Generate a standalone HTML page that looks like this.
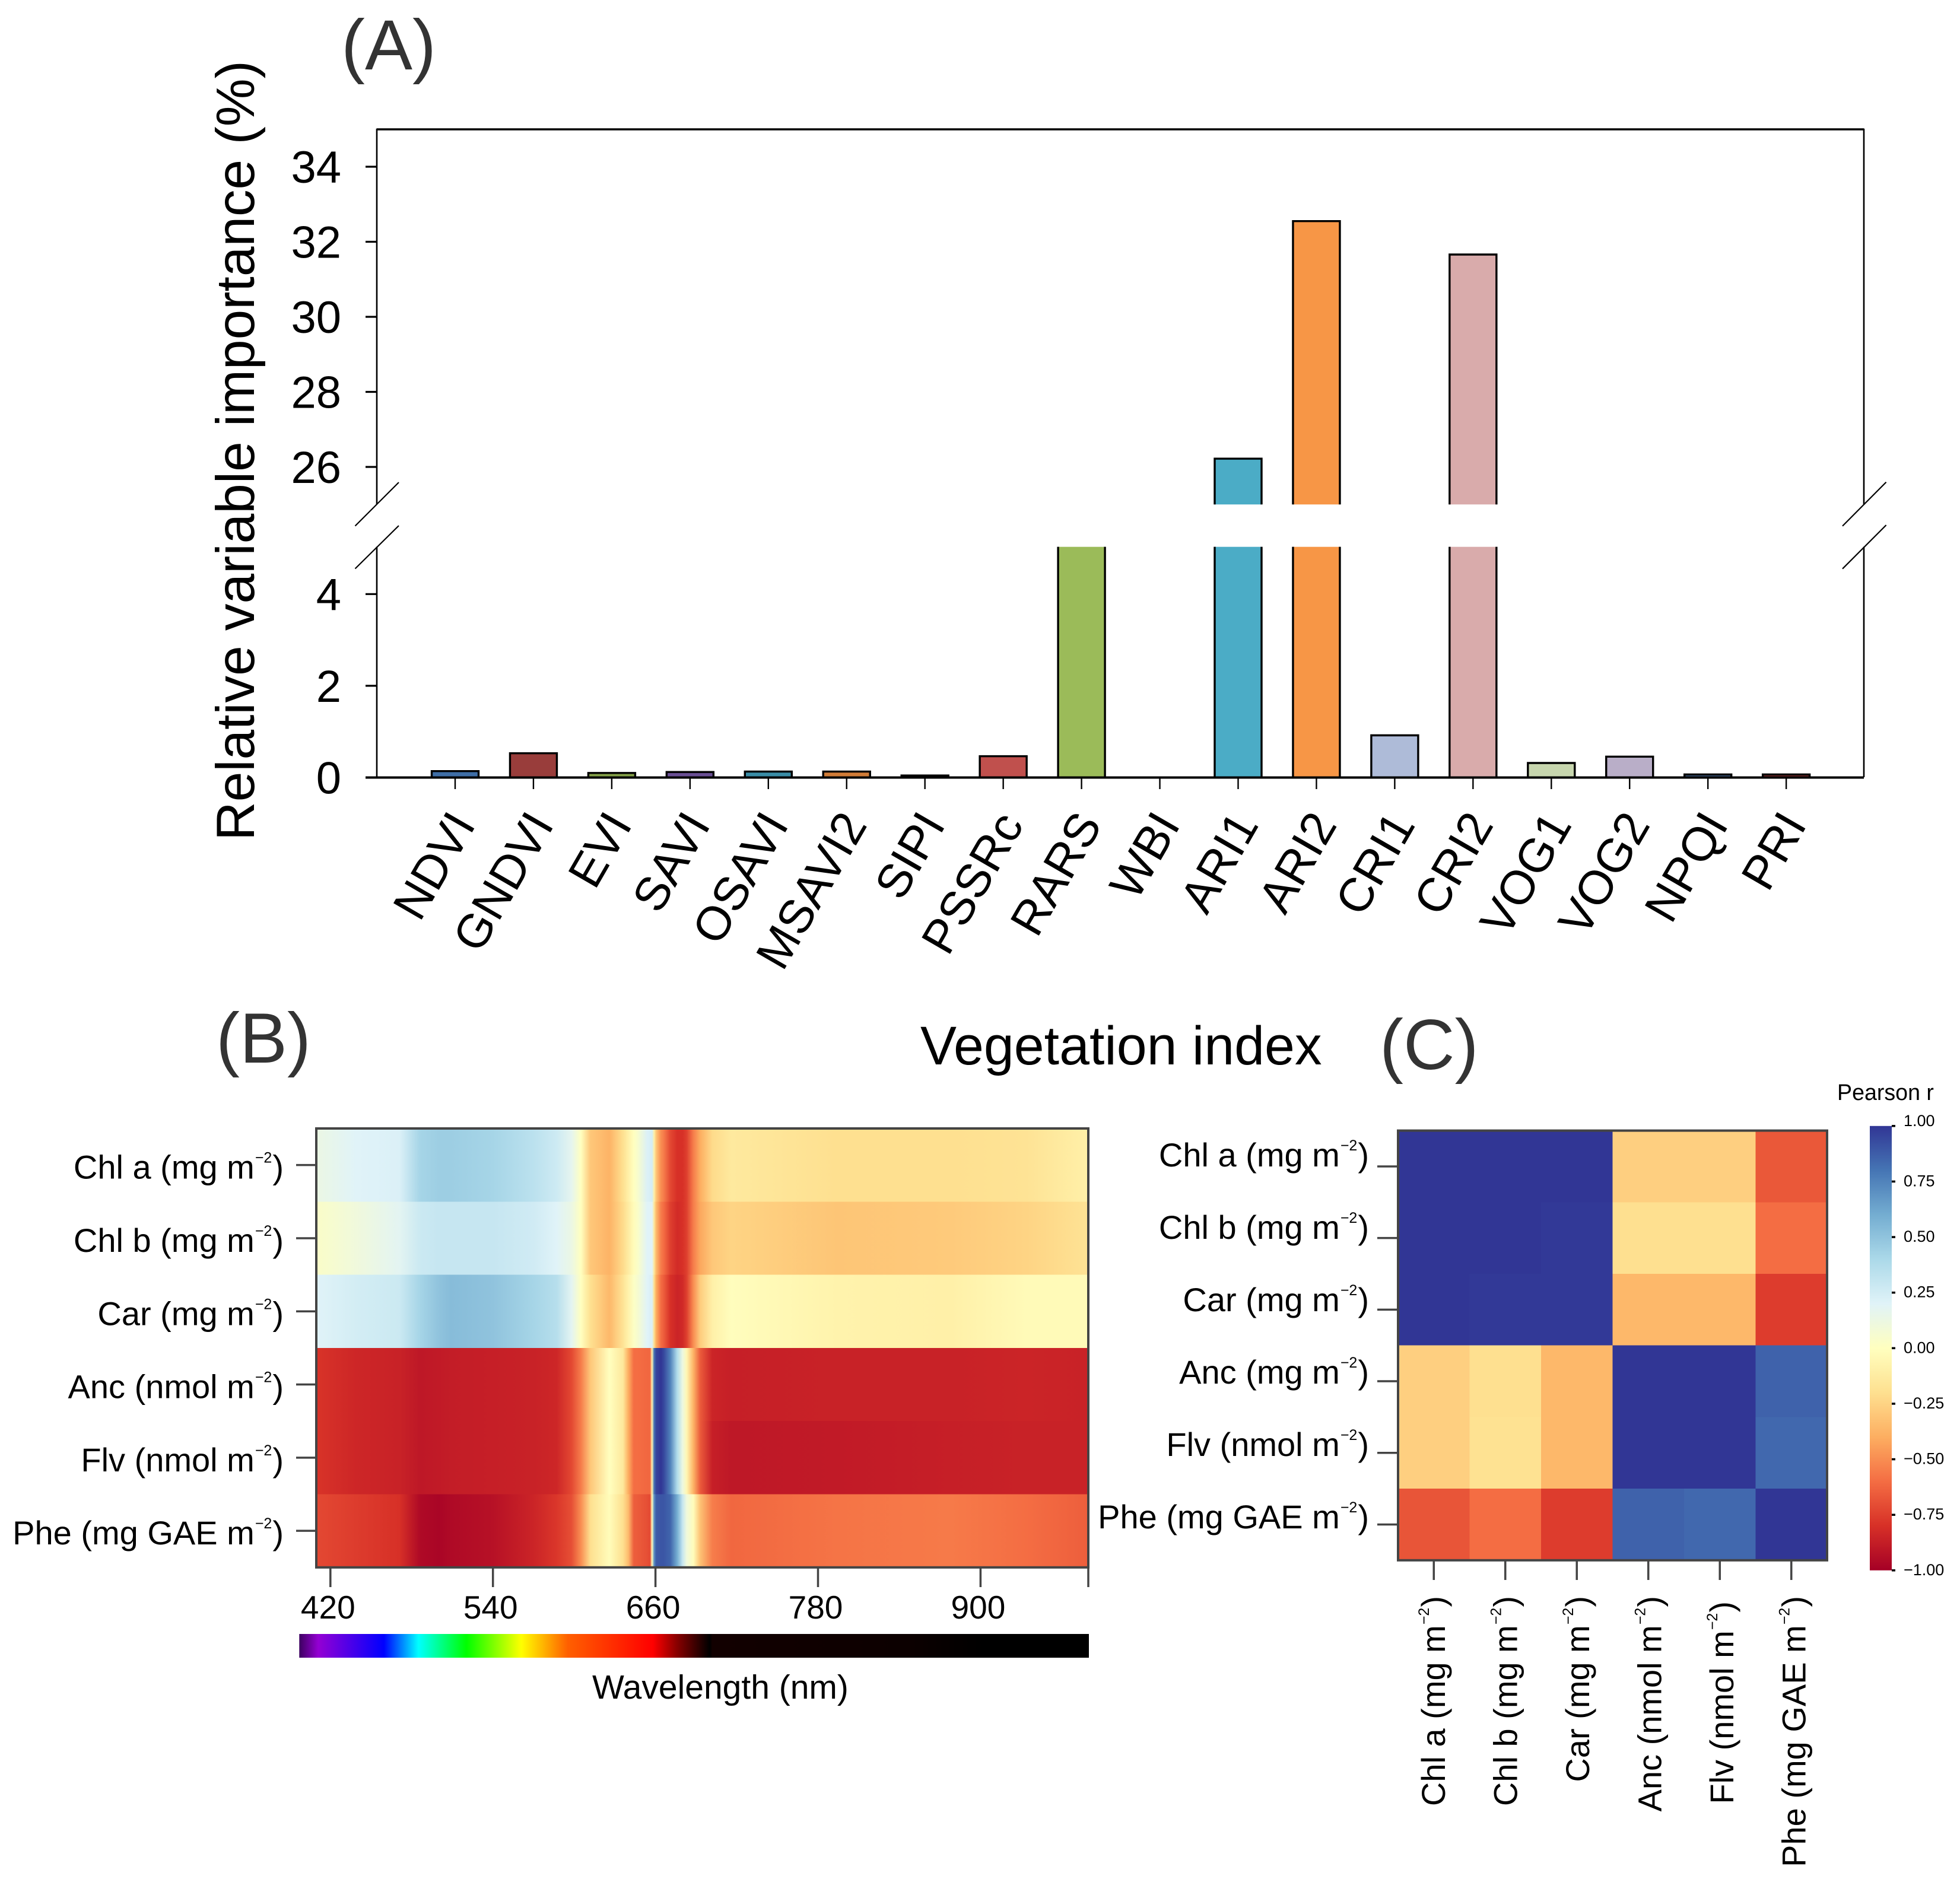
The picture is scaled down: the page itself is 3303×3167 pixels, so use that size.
<!DOCTYPE html>
<html lang="en">
<head>
<meta charset="utf-8">
<title>Vegetation index importance and spectral correlation</title>
<style>
html,body{margin:0;padding:0;background:#fff}
svg{display:block}
text{font-family:"Liberation Sans",Arial,sans-serif;fill:#000}
</style>
</head>
<body>
<svg id="figure" xmlns="http://www.w3.org/2000/svg" width="3303" height="3167" viewBox="0 0 3303 3167">
<defs id="defs"></defs>
<rect x="0" y="0" width="3303" height="3167" fill="#fff"/>
<g id="panelA">
  <text x="575" y="117" font-size="120" style="fill:#333">(A)</text>
  <text transform="translate(428,1417) rotate(-90)" font-size="91">Relative variable importance (%)</text>
  <text x="1551" y="1794" font-size="91.5">Vegetation index</text>
  <path d="M635 850V218H3141V850M635 921.5V1310M3141 921.5V1310" fill="none" stroke="#000" stroke-width="2.6"/>
  <path d="M635 218H3141" fill="none" stroke="#000" stroke-width="3.6"/>
  <g fill="none" stroke="#000" stroke-width="2.2">
    <path d="M598.5 886.5L672 813M598.5 958.5L672 886"/>
    <path d="M3105 886.6L3178.6 812.6M3105 958.7L3178.6 885"/>
  </g>
</g>
<g id="panelB">
  <text x="364" y="1791" font-size="120" style="fill:#333">(B)</text>
  <text x="998" y="2863" font-size="57">Wavelength (nm)</text>
</g>
<g id="panelC">
  <text x="2325" y="1802" font-size="120" style="fill:#333">(C)</text>
  <text x="3096" y="1854" font-size="37.6">Pearson r</text>
</g>
</svg>
<script>
// ---------- Panel A data ----------
const indexNames = ['NDVI','GNDVI','EVI','SAVI','OSAVI','MSAVI2','SIPI','PSSRc','RARS','WBI','ARI1','ARI2','CRI1','CRI2','VOG1','VOG2','NPQI','PRI'];
const importanceValues = [0.14,0.53,0.10,0.12,0.13,0.13,0.045,0.465,5.03,0,26.22,32.55,0.92,31.66,0.317,0.455,0.067,0.067];
const barPalette = ['#3f6ea6','#993d3b','#83a046','#6a4f94','#3a8ca6','#d07b37','#7f7f7f','#c0504d','#9bbb59','#2c4d75','#4bacc6','#f79646','#aebbd8','#d9abab','#c7d6ae','#b9aec8','#3b5a80','#7a2a28'];
const upperTicks = [26,28,30,32,34];
const lowerTicks = [0,2,4];

// ---------- Panel B data ----------
const rowLabelsB = ['Chl a (mg m','Chl b (mg m','Car (mg m','Anc (nmol m','Flv (nmol m','Phe (mg GAE m'];
const wavelengths = [410,439,471,486,500,509,540,570,587,598,605,612,626,636,640,644,647,654,656,657.5,659,660.5,664,666,671,676,680,683,688,693,702,716,794,878,934,980];
const seriesChlA = [.13,.2,.22,.42,.45,.45,.42,.34,.27,.17,0,-.3,-.38,-.2,-.1,0,.05,.22,.23,.25,-.1,-.3,-.5,-.55,-.72,-.8,-.8,-.75,-.55,-.4,-.22,-.14,-.2,-.2,-.18,-.1];
const seriesChlB = [.03,.1,.18,.28,.3,.3,.3,.26,.2,.13,0,-.3,-.38,-.22,-.12,-.02,.03,.2,.2,.2,-.15,-.35,-.55,-.6,-.75,-.82,-.8,-.75,-.55,-.42,-.3,-.25,-.31,-.29,-.25,-.18];
const seriesCar = [.2,.25,.28,.42,.5,.53,.5,.42,.36,.18,0,-.2,-.36,-.18,-.08,.02,.06,.2,.22,.22,-.2,-.4,-.6,-.65,-.8,-.85,-.83,-.75,-.5,-.28,-.1,-.01,-.08,-.1,-.03,-.03];
const seriesAnc = [-.79,-.84,-.86,-.9,-.89,-.88,-.87,-.86,-.84,-.72,-.55,-.3,0,-.15,-.4,-.6,-.6,-.62,-.62,-.05,.8,.95,1,.95,.75,.38,.12,-.05,-.38,-.66,-.85,-.87,-.86,-.86,-.85,-.86];
const seriesFlv = [-.79,-.84,-.86,-.9,-.89,-.88,-.87,-.86,-.84,-.72,-.55,-.3,0,-.15,-.4,-.6,-.6,-.62,-.62,-.05,.8,.95,1,.95,.75,.38,.12,-.05,-.38,-.66,-.87,-.9,-.89,-.87,-.86,-.86];
const seriesPhe = [-.72,-.76,-.8,-.96,-.98,-.96,-.93,-.85,-.78,-.7,-.5,-.2,-.02,-.2,-.35,-.65,-.66,-.7,-.72,0,.7,.88,.9,.9,.85,.6,.3,.1,-.02,-.32,-.55,-.62,-.58,-.56,-.6,-.65];
const wavelengthTicks = [420,540,660,780,900];
const spectrumWavelengths = [397,411,459.5,485,520.4,561,595,658,675.5,700,702,845,903,980];
const spectrumColors = ['#3d0060','#9400d3','#0000ff','#00ffff','#00ff00','#ffff00','#ff6000','#ff0000','#8a0000','#000000','#120000','#0c0000','#000000','#000000'];

// ---------- Panel C data ----------
const yLabelsC = ['Chl a (mg m','Chl b (mg m','Car (mg m','Anc (mg m','Flv (nmol m','Phe (mg GAE m'];
const xLabelsC = ['Chl a (mg m','Chl b (mg m','Car (mg m','Anc (nmol m','Flv (nmol m','Phe (mg GAE m'];
const corrChlA = [1,1,1,-.27,-.27,-.67];
const corrChlB = [1,1,.99,-.2,-.2,-.6];
const corrCar = [1,.99,.99,-.36,-.36,-.76];
const corrAnc = [-.27,-.2,-.36,1,1,.86];
const corrFlv = [-.27,-.19,-.36,1,1,.84];
const corrPhe = [-.68,-.6,-.76,.86,.84,1];
const colorbarTicks = [1,.75,.5,.25,0,-.25,-.5,-.75,-1];
const colormapStops = ['#a50026','#d73027','#f46d43','#fdae61','#fee090','#ffffbf','#e0f3f8','#abd9e9','#74add1','#4575b4','#313695'];

// ---------- Helpers ----------
const NS = 'http://www.w3.org/2000/svg';
const panelA = document.getElementById('panelA');
const panelB = document.getElementById('panelB');
const panelC = document.getElementById('panelC');
const defs = document.getElementById('defs');
function make(tag, attrs, parent){
  const el = document.createElementNS(NS, tag);
  for (const k in attrs) el.setAttribute(k, attrs[k]);
  parent.appendChild(el);
  return el;
}
function slug(s){return String(s).toLowerCase().replace(/[^a-z0-9]+/g,'-').replace(/^-|-$/g,'');}
function hexToRgb(h){return [parseInt(h.slice(1,3),16),parseInt(h.slice(3,5),16),parseInt(h.slice(5,7),16)];}
function colormap(v){
  const t = (Math.max(-1,Math.min(1,v))+1)/2*(colormapStops.length-1);
  const i = Math.min(Math.floor(t),colormapStops.length-2);
  const f = t-i, a = hexToRgb(colormapStops[i]), b = hexToRgb(colormapStops[i+1]);
  return 'rgb('+a.map((c,k)=>Math.round(c+(b[k]-c)*f)).join(',')+')';
}
function unitLabel(el, base){
  el.appendChild(document.createTextNode(base));
  const sup = make('tspan',{'font-size':25,dy:-27,dx:1},el);
  sup.textContent = '\u22122';
  const close = make('tspan',{dy:27,dx:1},el);
  close.textContent = ')';
}

// ---------- Panel A ----------
const BREAK_LOW = 5.03, BREAK_HIGH = 25;
function yLower(v){return 1310.5-77.3*v;}
function yUpper(v){return 787-63.25*(v-26);}
function xBar(i){return 767+131.95*i;}
const BAR_W = 79;

importanceValues.forEach((v,i)=>{
  const x0 = xBar(i)-BAR_W/2, x1 = xBar(i)+BAR_W/2;
  const g = make('g',{},panelA);
  
  
  const topLow = yLower(Math.min(v,BREAK_LOW));
  if (v>0){
    make('rect',{x:x0,y:topLow,width:BAR_W,height:Math.max(0,1310.5-topLow),fill:barPalette[i]},g);
    const d = v<BREAK_LOW
      ? 'M'+x0+' 1310.5V'+topLow+'H'+x1+'V1310.5'
      : 'M'+x0+' 1310.5V'+topLow+'M'+x1+' 1310.5V'+topLow;
    make('path',{d:d,fill:'none',stroke:'#000','stroke-width':3.4},g);
  }
  if (v>BREAK_HIGH){
    const topUp = yUpper(v), botUp = yUpper(BREAK_HIGH);
    make('rect',{x:x0,y:topUp,width:BAR_W,height:botUp-topUp,fill:barPalette[i]},g);
    make('path',{d:'M'+x0+' '+botUp+'V'+topUp+'H'+x1+'V'+botUp,fill:'none',stroke:'#000','stroke-width':3.4},g);
  }
  const tick = make('line',{x1:xBar(i),x2:xBar(i),y1:1310,y2:1330,stroke:'#000','stroke-width':2.4},panelA);
  
  
  const lab = make('text',{transform:'translate('+(xBar(i)+36)+',1390) rotate(-60)','font-size':80,'text-anchor':'end'},panelA);
  lab.textContent = indexNames[i];
  
  
});
const xAxisA = make('line',{x1:616,x2:3141,y1:1310.5,y2:1310.5,stroke:'#000','stroke-width':4},panelA);


upperTicks.forEach(v=>{
  const t = make('line',{x1:616,x2:635,y1:yUpper(v),y2:yUpper(v),stroke:'#000','stroke-width':3.2},panelA);
  
  
  const l = make('text',{x:575,y:yUpper(v)+27,'font-size':76,'text-anchor':'end'},panelA);
  l.textContent = v;
  
  
});
lowerTicks.forEach(v=>{
  const t = make('line',{x1:616,x2:635,y1:yLower(v),y2:yLower(v),stroke:'#000','stroke-width':3.2},panelA);
  
  
  const l = make('text',{x:575,y:yLower(v)+27,'font-size':76,'text-anchor':'end'},panelA);
  l.textContent = v;
  
  
});

// ---------- Panel B ----------
function xWave(w){return 556.8+(w-420)*2.2825;}
const ROW_B_TOP = 1902, ROW_B_H = 123.3;
function yRowB(i){return ROW_B_TOP+i*ROW_B_H;}
const heatSeries = [seriesChlA,seriesChlB,seriesCar,seriesAnc,seriesFlv,seriesPhe];
heatSeries.forEach((series,r)=>{
  const row = make('g',{'shape-rendering':'crispEdges'},panelB);
  
  
  for (let i=0;i<wavelengths.length-1;i++){
    const x0 = xWave(wavelengths[i]), x1 = xWave(wavelengths[i+1]);
    const id = 'hb'+r+'_'+i;
    const grad = make('linearGradient',{id:id,gradientUnits:'userSpaceOnUse',x1:x0,x2:x1,y1:0,y2:0},defs);
    make('stop',{offset:0,'stop-color':colormap(series[i])},grad);
    make('stop',{offset:1,'stop-color':colormap(series[i+1])},grad);
    const cell = make('rect',{x:x0,y:yRowB(r),width:x1-x0+1,height:ROW_B_H+1,fill:'url(#'+id+')'},row);
    
    
  }
  const yc = yRowB(r)+ROW_B_H/2;
  const t = make('line',{x1:499,x2:533,y1:yc,y2:yc,stroke:'#444','stroke-width':3.5},panelB);
  
  
  const l = make('text',{x:478,y:yc+23,'font-size':56,'text-anchor':'end'},panelB);
  unitLabel(l,rowLabelsB[r]);
  
  
});
const frameB = make('rect',{x:533,y:1902,width:1301,height:739.8,fill:'none',stroke:'#444','stroke-width':4},panelB);


wavelengthTicks.forEach(w=>{
  const t = make('line',{x1:xWave(w),x2:xWave(w),y1:2641,y2:2675,stroke:'#444','stroke-width':3.5},panelB);
  
  
  const l = make('text',{x:xWave(w)-4,y:2728,'font-size':55,'text-anchor':'middle'},panelB);
  l.textContent = w;
  
  
});
const endTick = make('line',{x1:1834,x2:1834,y1:2641,y2:2675,stroke:'#444','stroke-width':3.5},panelB);


const specGrad = make('linearGradient',{id:'spectrumGrad',gradientUnits:'userSpaceOnUse',x1:xWave(spectrumWavelengths[0]),x2:xWave(spectrumWavelengths[spectrumWavelengths.length-1]),y1:0,y2:0},defs);
const specSpan = spectrumWavelengths[spectrumWavelengths.length-1]-spectrumWavelengths[0];
spectrumWavelengths.forEach((w,i)=>{
  make('stop',{offset:(w-spectrumWavelengths[0])/specSpan,'stop-color':spectrumColors[i]},specGrad);
});
const specBar = make('rect',{x:xWave(spectrumWavelengths[0]),y:2754,width:xWave(spectrumWavelengths[spectrumWavelengths.length-1])-xWave(spectrumWavelengths[0]),height:40,fill:'url(#spectrumGrad)'},panelB);



// ---------- Panel C ----------
const corrMatrix = [corrChlA,corrChlB,corrCar,corrAnc,corrFlv,corrPhe];
const C_W = 120.5, C_H = 120.7;
function xCellC(j){return 2356+j*C_W;}
function yCellC(i){return 1905.6+i*C_H;}
corrMatrix.forEach((row,i)=>{
  row.forEach((v,j)=>{
    const cell = make('rect',{x:xCellC(j),y:yCellC(i),width:C_W+.6,height:C_H+.6,fill:colormap(v),'shape-rendering':'crispEdges'},panelC);
    
    
  });
  const yc = yCellC(i)+C_H/2;
  const t = make('line',{x1:2321,x2:2356,y1:yc,y2:yc,stroke:'#444','stroke-width':3.5},panelC);
  
  
  const l = make('text',{x:2307,y:1966+i*122,'font-size':56,'text-anchor':'end'},panelC);
  unitLabel(l,yLabelsC[i]);
  
  
});
xLabelsC.forEach((name,j)=>{
  const xc = xCellC(j)+C_W/2;
  const t = make('line',{x1:xc,x2:xc,y1:2630,y2:2663,stroke:'#444','stroke-width':3.5},panelC);
  
  
  const topY = name.indexOf('Flv')===0 ? 2699 : 2690;
  const l = make('text',{transform:'translate('+(2435+j*121.5)+','+topY+') rotate(-90)','font-size':56,'text-anchor':'end'},panelC);
  unitLabel(l,name);
  
  
});
const frameC = make('rect',{x:2356,y:1905.6,width:723,height:724.2,fill:'none',stroke:'#444','stroke-width':4},panelC);



function yColorbar(v){return 2272.3-374.5*v;}
const cbGrad = make('linearGradient',{id:'cbGrad',gradientUnits:'userSpaceOnUse',x1:0,x2:0,y1:yColorbar(1),y2:yColorbar(-1)},defs);
colormapStops.slice().reverse().forEach((c,i)=>{
  make('stop',{offset:i/(colormapStops.length-1),'stop-color':c},cbGrad);
});
const cb = make('rect',{x:3151,y:yColorbar(1),width:37,height:yColorbar(-1)-yColorbar(1),fill:'url(#cbGrad)'},panelC);


colorbarTicks.forEach(v=>{
  const t = make('line',{x1:3188,x2:3194,y1:yColorbar(v),y2:yColorbar(v),stroke:'#000','stroke-width':3.5},panelC);
  
  
  const l = make('text',{x:3208,y:yColorbar(v)+(v===1?0:8),'font-size':27},panelC);
  l.textContent = (v<0?'\u2212':'')+Math.abs(v).toFixed(2);
  
  
});
</script>
</body>
</html>
